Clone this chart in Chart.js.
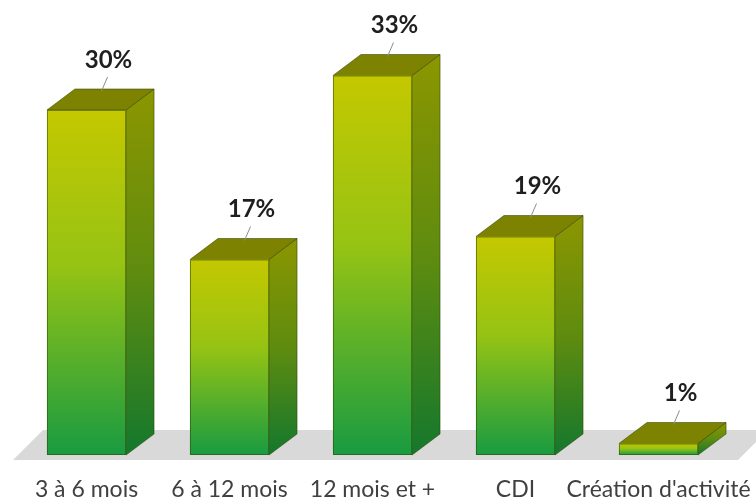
<!DOCTYPE html>
<html lang="fr">
<head>
<meta charset="utf-8">
<title>Répartition</title>
<script src="https://cdn.jsdelivr.net/npm/chart.js@4.4.1/dist/chart.umd.min.js"></script>
<style>
  html, body { margin: 0; padding: 0; background: #fff; }
  #chart { display: block; }
</style>
</head>
<body>
<canvas id="chart" width="756" height="502"></canvas>
<script>
// categories and shares (%)
const categories = ['3 à 6 mois', '6 à 12 mois', '12 mois et +', 'CDI', "Création d'activité"];
const shares = [30, 17, 33, 19, 1];

// 3D look
const DEPTH_X = 28;
const DEPTH_Y = 21;

// grey floor under the bars
const floorPlugin = {
  id: 'floor',
  beforeDatasetsDraw(chart){
    const {ctx, chartArea} = chart;
    const base = chart.scales.y.getPixelForValue(0);
    ctx.save();
    ctx.fillStyle = '#d9d9d9';
    ctx.beginPath();
    ctx.moveTo(chartArea.left - 2, base + 5);
    ctx.lineTo(chartArea.right + 8, base + 5);
    ctx.lineTo(chartArea.right + 38, base - 25);
    ctx.lineTo(chartArea.left + 28, base - 25);
    ctx.closePath();
    ctx.fill();
    ctx.restore();
  }
};

// boxes + value labels
const boxPlugin = {
  id: 'boxes',
  afterDatasetsDraw(chart){
    const ctx = chart.ctx;
    const meta = chart.getDatasetMeta(0);
    meta.data.forEach((bar, i)=>{
      const x0 = bar.x - bar.width / 2;
      const x1 = bar.x + bar.width / 2;
      const top = bar.y;
      const bottom = bar.base;
      ctx.save();
      ctx.lineWidth = 1;

      // side face
      let g = ctx.createLinearGradient(0, top - DEPTH_Y, 0, bottom);
      g.addColorStop(0, 'rgb(140,150,0)');
      g.addColorStop(0.5, 'rgb(95,140,15)');
      g.addColorStop(1, 'rgb(20,120,45)');
      ctx.fillStyle = g;
      ctx.strokeStyle = 'rgba(50,70,0,0.55)';
      ctx.beginPath();
      ctx.moveTo(x1, top);
      ctx.lineTo(x1 + DEPTH_X, top - DEPTH_Y);
      ctx.lineTo(x1 + DEPTH_X, bottom - DEPTH_Y);
      ctx.lineTo(x1, bottom);
      ctx.closePath();
      ctx.fill();
      ctx.stroke();

      // top face
      ctx.fillStyle = 'rgb(125,130,0)';
      ctx.beginPath();
      ctx.moveTo(x0, top);
      ctx.lineTo(x0 + DEPTH_X, top - DEPTH_Y);
      ctx.lineTo(x1 + DEPTH_X, top - DEPTH_Y);
      ctx.lineTo(x1, top);
      ctx.closePath();
      ctx.fill();
      ctx.stroke();

      // front face
      g = ctx.createLinearGradient(0, top, 0, bottom);
      g.addColorStop(0, 'rgb(196,200,0)');
      g.addColorStop(0.45, 'rgb(150,195,20)');
      g.addColorStop(1, 'rgb(25,155,65)');
      ctx.fillStyle = g;
      ctx.fillRect(x0, top, x1 - x0, bottom - top);
      ctx.strokeRect(x0 + 0.5, top + 0.5, x1 - x0 - 1, bottom - top - 1);

      // value label with leader line
      const lx = bar.x + 22;
      const ly = top - 50;
      ctx.strokeStyle = '#8c8c8c';
      ctx.beginPath();
      ctx.moveTo(lx - 1, ly + 17);
      ctx.lineTo(lx - 7, top - DEPTH_Y + 2);
      ctx.stroke();
      ctx.fillStyle = '#1f1f1f';
      ctx.font = 'bold 24px Lato';
      ctx.textAlign = 'center';
      ctx.textBaseline = 'middle';
      ctx.fillText(shares[i] + '%', lx, ly);
      ctx.restore();
    });
  }
};

const chart = new Chart(document.getElementById('chart'), {
  type: 'bar',
  data: {
    labels: categories,
    datasets: [{
      data: shares,
      backgroundColor: 'rgba(0,0,0,0)',
      borderWidth: 0,
      categoryPercentage: 1,
      barPercentage: 0.553
    }]
  },
  options: {
    responsive: false,
    animation: false,
    events: [],
    layout: { padding: { left: 15, right: 26, top: 18, bottom: 0 } },
    plugins: { legend: { display: false }, tooltip: { enabled: false } },
    scales: {
      x: {
        grid: { display: false, drawTicks: false },
        border: { display: false },
        ticks: {
          padding: 23,
          color: '#404040',
          font: { family: 'Lato', size: 23, lineHeight: 1 },
          maxRotation: 0,
          autoSkip: false
        },
        // keep the long last label from shrinking the plot
        afterFit(scale){
          scale.height = 47;
          scale.paddingLeft = 0;
          scale.paddingRight = 0;
        }
      },
      y: { display: false, min: 0, max: 38 }
    }
  },
  plugins: [floorPlugin, boxPlugin]
});
</script>
</body>
</html>
